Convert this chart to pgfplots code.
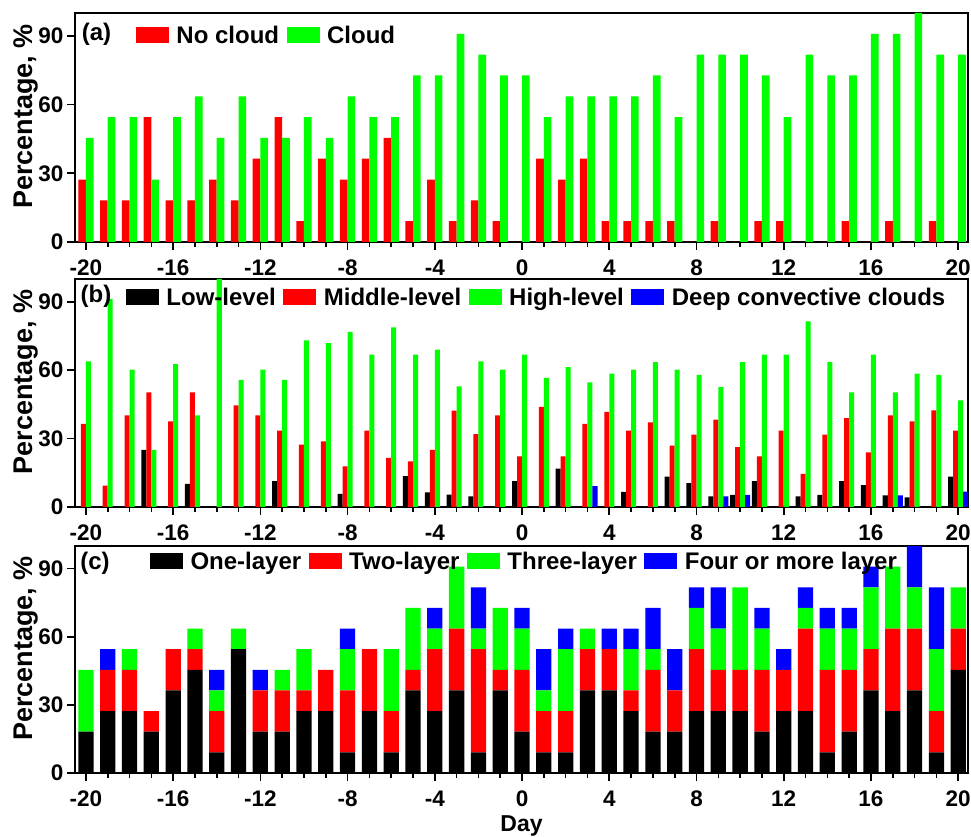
\documentclass[border=0pt]{standalone}
\usepackage{fontspec}
\setmainfont{Liberation Sans}
\usepackage{pgfplots}
\pgfplotsset{compat=1.18}
\usepackage{pgfplotstable}

\definecolor{cred}{RGB}{255,0,0}
\definecolor{cgreen}{RGB}{0,255,0}
\definecolor{cblue}{RGB}{0,0,255}

% Panel (a): no cloud / cloud (%)
\pgfplotstableread{
day nc cl
-20 27.27 45.45
-19 18.18 54.55
-18 18.18 54.55
-17 54.55 27.27
-16 18.18 54.55
-15 18.18 63.64
-14 27.27 45.45
-13 18.18 63.64
-12 36.36 45.45
-11 54.55 45.45
-10 9.09 54.55
-9 36.36 45.45
-8 27.27 63.64
-7 36.36 54.55
-6 45.45 54.55
-5 9.09 72.73
-4 27.27 72.73
-3 9.09 90.91
-2 18.18 81.82
-1 9.09 72.73
0 0 72.73
1 36.36 54.55
2 27.27 63.64
3 36.36 63.64
4 9.09 63.64
5 9.09 63.64
6 9.09 72.73
7 9.09 54.55
8 0 81.82
9 9.09 81.82
10 0 81.82
11 9.09 72.73
12 9.09 54.55
13 0 81.82
14 0 72.73
15 9.09 72.73
16 0 90.91
17 9.09 90.91
18 0 100
19 9.09 81.82
20 0 81.82
}\tabA

% Panel (b): low / middle / high / deep convective (%)
\pgfplotstableread{
day low mid high deep
-20 0 36.5 63.9 0
-19 0 9.4 91.2 0
-18 0 40.2 60.2 0
-17 25.1 50.3 25.1 0
-16 0 37.6 62.7 0
-15 10.1 50.3 40.2 0
-14 0 0 100 0
-13 0 44.6 55.8 0
-12 0 40.2 60.2 0
-11 11.3 33.5 55.8 0
-10 0 27.3 73.1 0
-9 0 28.8 71.9 0
-8 5.8 17.8 76.8 0
-7 0 33.5 66.8 0
-6 0 21.5 78.8 0
-5 13.5 20.0 66.8 0
-4 6.4 25.1 69.0 0
-3 5.4 42.3 52.9 0
-2 4.7 32.0 63.9 0
-1 0 40.2 60.2 0
0 11.3 22.2 66.8 0
1 0 43.9 56.6 0
2 16.8 22.2 61.4 0
3 0 36.5 54.7 9.2
4 0 41.7 58.5 0
5 6.6 33.5 60.2 0
6 0 37.1 63.5 0
7 13.3 26.9 60.2 0
8 10.5 31.7 58.0 0
9 4.7 38.3 52.6 4.7
10 5.3 26.3 63.5 5.3
11 11.3 22.2 66.8 0
12 0 33.5 66.8 0
13 4.7 14.5 81.4 0
14 5.3 31.7 63.5 0
15 11.3 39.0 50.3 0
16 9.6 24.0 66.8 0
17 5.1 40.2 50.3 5.1
18 4.2 37.6 58.5 0
19 0 42.4 57.9 0
20 13.3 33.5 46.8 6.7
}\tabB

% Panel (c): one / two / three / four or more layer (%)
\pgfplotstableread{
day one two three four
-20 18.18 0 27.27 0
-19 27.27 18.18 0 9.09
-18 27.27 18.18 9.09 0
-17 18.18 9.09 0 0
-16 36.36 18.18 0 0
-15 45.45 9.09 9.09 0
-14 9.09 18.18 9.09 9.09
-13 54.55 0 9.09 0
-12 18.18 18.18 0 9.09
-11 18.18 18.18 9.09 0
-10 27.27 9.09 18.18 0
-9 27.27 18.18 0 0
-8 9.09 27.27 18.18 9.09
-7 27.27 27.27 0 0
-6 9.09 18.18 27.27 0
-5 36.36 9.09 27.27 0
-4 27.27 27.27 9.09 9.09
-3 36.36 27.27 27.27 0
-2 9.09 45.45 9.09 18.18
-1 36.36 9.09 27.27 0
0 18.18 27.27 18.18 9.09
1 9.09 18.18 9.09 18.18
2 9.09 18.18 27.27 9.09
3 36.36 18.18 9.09 0
4 36.36 18.18 0 9.09
5 27.27 9.09 18.18 9.09
6 18.18 27.27 9.09 18.18
7 18.18 18.18 0 18.18
8 27.27 27.27 18.18 9.09
9 27.27 18.18 18.18 18.18
10 27.27 18.18 36.36 0
11 18.18 27.27 18.18 9.09
12 27.27 18.18 0 9.09
13 27.27 36.36 9.09 9.09
14 9.09 36.36 18.18 9.09
15 18.18 27.27 18.18 9.09
16 36.36 18.18 27.27 9.09
17 27.27 36.36 27.27 0
18 36.36 27.27 18.18 18.18
19 9.09 18.18 27.27 27.27
20 45.45 18.18 18.18 0
}\tabC

\pgfplotsset{
  panel/.style={
    scale only axis, width=893pt, height=228pt,
    xmin=-20.5, xmax=20.45, ymin=0, ymax=100,
    xtick={-20,-16,...,20},
    xticklabels={-20,-16,-12,-8,-4,0,4,8,12,16,20},
    minor x tick num=3,
    ytick={0,30,60,90}, yticklabels={0,30,60,90},
    xtick pos=bottom, ytick pos=left,
    tick align=outside,
    major tick length=8pt, minor tick length=5pt,
    every tick/.style={black, line width=1.6pt},
    axis line style={line width=1.8pt},
    tick label style={font=\fontsize{22.5}{22.5}\selectfont\bfseries},
    xticklabel style={yshift=-8pt, inner sep=2pt},
    ylabel={Percentage, \%},
    ylabel style={font=\fontsize{27}{27}\selectfont\bfseries,
      at={(axis description cs:-0.055,0.548)}, anchor=center},
    legend style={draw=none, fill=none, inner sep=0pt, outer sep=0pt,
      font=\fontsize{24}{24}\selectfont\bfseries, legend columns=-1, anchor=west,
      nodes={inner sep=0pt, text height=17.5pt, text depth=0pt},
      /tikz/every odd column/.append style={column sep=7.5pt},
      /tikz/every even column/.append style={column sep=7.5pt}},
  },
  boxlegend/.style={
    legend image code/.code={\fill[##1] (0pt,-8pt) rectangle (33pt,8pt);}},
}
\tikzset{plab/.style={font=\fontsize{24}{24}\selectfont\bfseries, inner sep=0pt}}

\begin{document}
\begin{tikzpicture}[x=1pt,y=1pt]
\path[use as bounding box] (0,0) rectangle (971,837);

% ---------- (a)
\begin{axis}[panel, at={(75pt,595pt)}, anchor=south west, height=229pt,
  ybar, bar width=0.35, boxlegend,
  legend style={at={(axis description cs:0.0683,0.904)}}]
\addplot[fill=cred, draw=none, bar shift=-0.175] table[x=day,y=nc]{\tabA};
\addplot[fill=cgreen, draw=none, bar shift=0.175] table[x=day,y=cl]{\tabA};
\legend{No cloud, Cloud}
\node[plab, xshift=21.5pt, yshift=-21pt] at (rel axis cs:0,1) {(a)};
\end{axis}

% ---------- (b)
\begin{axis}[panel, at={(75pt,330pt)}, anchor=south west, height=228pt,
  ybar, bar width=0.23, boxlegend,
  legend style={at={(axis description cs:0.0571,0.923)}}]
\addplot[fill=black, draw=none, bar shift=-0.345] table[x=day,y=low]{\tabB};
\addplot[fill=cred, draw=none, bar shift=-0.115] table[x=day,y=mid]{\tabB};
\addplot[fill=cgreen, draw=none, bar shift=0.115] table[x=day,y=high]{\tabB};
\addplot[fill=cblue, draw=none, bar shift=0.345] table[x=day,y=deep]{\tabB};
\legend{Low-level, Middle-level, High-level, Deep convective clouds}
\node[plab, xshift=21pt, yshift=-17.5pt] at (rel axis cs:0,1) {(b)};
\end{axis}

% ---------- (c)
\begin{axis}[panel, at={(75pt,64pt)}, anchor=south west, height=227pt,
  ybar stacked, bar width=0.7, boxlegend,
  xlabel={Day},
  xlabel style={font=\fontsize{23}{23}\selectfont\bfseries, inner sep=0pt,
    at={(axis description cs:0.5,0)}, anchor=base, yshift=-59pt},
  legend style={at={(axis description cs:0.084,0.934)}}]
\addplot[fill=black, draw=none] table[x=day,y=one]{\tabC};
\addplot[fill=cred, draw=none] table[x=day,y=two]{\tabC};
\addplot[fill=cgreen, draw=none] table[x=day,y=three]{\tabC};
\addplot[fill=cblue, draw=none] table[x=day,y=four]{\tabC};
\legend{One-layer, Two-layer, Three-layer, Four or more layer}
\node[plab, xshift=20pt, yshift=-17pt] at (rel axis cs:0,1) {(c)};
\end{axis}
\end{tikzpicture}
\end{document}
